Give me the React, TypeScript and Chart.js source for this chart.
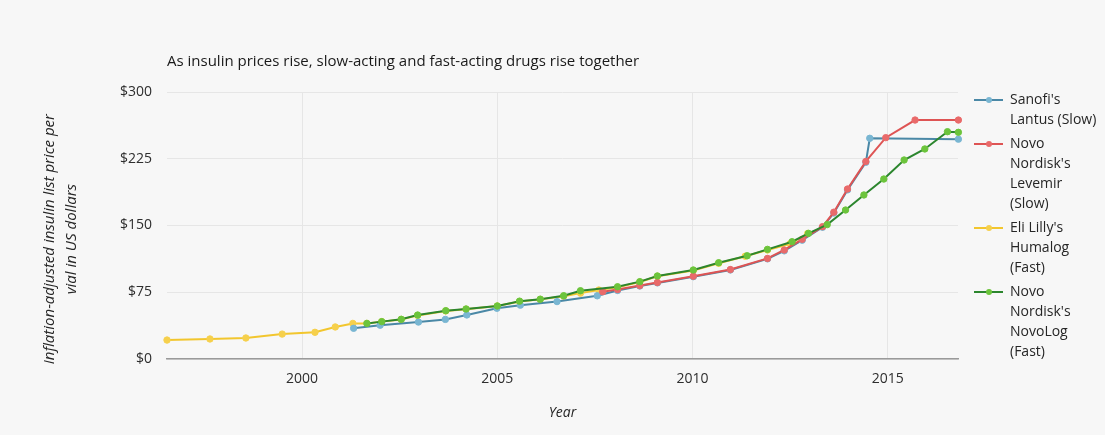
import React, { useEffect, useRef } from 'react';
import { Chart, registerables } from 'chart.js';

Chart.register(...registerables);

const TITLE = 'As insulin prices rise, slow-acting and fast-acting drugs rise together';
const X_TITLE = 'Year';
const Y_TITLE = ['Inflation-adjusted insulin list price per       ', 'vial in US dollars       '];
const X_MIN = 1996.54;
const X_MAX = 2016.8;
const X_TICKS = [2000, 2005, 2010, 2015];
const Y_TICKS = [0, 75, 150, 225, 300];

const SERIES_LABELS = [
  "Sanofi's Lantus (Slow)",
  "Novo Nordisk's Levemir (Slow)",
  "Eli Lilly's Humalog (Fast)",
  "Novo Nordisk's NovoLog (Fast)",
];
const LEGEND_LINES = [
  ["Sanofi's", 'Lantus (Slow)'],
  ['Novo', "Nordisk's", 'Levemir', '(Slow)'],
  ["Eli Lilly's", 'Humalog', '(Fast)'],
  ['Novo', "Nordisk's", 'NovoLog', '(Fast)'],
];

const LANTUS_YEARS = [2001.32, 2002.0, 2002.98, 2003.67, 2004.22, 2004.99, 2005.59, 2006.53, 2007.56, 2008.08, 2008.65, 2009.1, 2010.02, 2010.97, 2011.92, 2012.35, 2012.81, 2013.33, 2013.62, 2013.97, 2014.44, 2014.54, 2016.81];
const LANTUS_PRICES = [34.5, 38, 41.5, 44.5, 49.5, 57, 60.5, 64.5, 71, 77, 82, 85.5, 92.5, 100, 112.5, 121.5, 133.5, 148, 164, 190, 221, 248, 247];

const LEVEMIR_YEARS = [2007.7, 2008.08, 2008.65, 2009.1, 2010.02, 2010.97, 2011.92, 2012.35, 2012.81, 2013.33, 2013.62, 2013.97, 2014.44, 2014.95, 2015.7, 2016.81];
const LEVEMIR_PRICES = [75.6, 78, 82.5, 86, 93, 100.5, 113, 122.5, 134.5, 148.7, 165, 191, 222, 248.7, 268.5, 268.5];

const HUMALOG_YEARS = [1996.54, 1997.64, 1998.56, 1999.49, 2000.33, 2000.85, 2001.3, 2001.66, 2002.04, 2002.54, 2002.96, 2003.68, 2004.2, 2005.0, 2005.57, 2006.1, 2006.7, 2007.13, 2007.6, 2008.08, 2008.65, 2009.1, 2010.02, 2010.67, 2011.35, 2011.92, 2012.5, 2012.95];
const HUMALOG_PRICES = [21.3, 22.5, 23.6, 28, 30, 36, 40, 40, 42, 44.5, 49, 54, 56, 59.5, 64.5, 67, 70.5, 74, 77.5, 80.5, 86.5, 93, 99.5, 107.5, 115.5, 122.5, 129.5, 141];

const NOVOLOG_YEARS = [2001.66, 2002.04, 2002.54, 2002.96, 2003.68, 2004.2, 2005.0, 2005.57, 2006.1, 2006.7, 2007.13, 2008.08, 2008.65, 2009.1, 2010.02, 2010.67, 2011.4, 2011.92, 2012.55, 2012.97, 2013.45, 2013.92, 2014.39, 2014.9, 2015.42, 2015.95, 2016.53, 2016.81];
const NOVOLOG_PRICES = [40, 42, 44.6, 49.4, 54.3, 56.2, 59.6, 65, 67.2, 71.1, 76.7, 81.2, 86.9, 93.3, 100, 108.2, 116, 123.2, 131.8, 141.2, 151, 167.4, 184.3, 202.2, 223.6, 236, 255.4, 254.7];

const SERIES_YEARS = [LANTUS_YEARS, LEVEMIR_YEARS, HUMALOG_YEARS, NOVOLOG_YEARS];
const SERIES_PRICES = [LANTUS_PRICES, LEVEMIR_PRICES, HUMALOG_PRICES, NOVOLOG_PRICES];

const LINE_COLORS = ['#4a88a6', '#de5454', '#f2c62e', '#2c862e'];
const POINT_COLORS = ['#79b6d2', '#e96a6a', '#f6d04c', '#6cc43c'];
const DRAW_ORDER = [2, 1, 3, 0];

const FONT = '"Open Sans", Lato, sans-serif';
const TEXT = '#262626';

function makeMarker(line: string, dot: string): HTMLCanvasElement {
  const c = document.createElement('canvas');
  c.width = 41;
  c.height = 10;
  const g = c.getContext('2d')!;
  g.strokeStyle = line;
  g.lineWidth = 2;
  g.beginPath();
  g.moveTo(12, 5);
  g.lineTo(41, 5);
  g.stroke();
  g.fillStyle = dot;
  g.beginPath();
  g.arc(27, 5, 3, 0, Math.PI * 2);
  g.fill();
  return c;
}

export default function App() {
  const ref = useRef<HTMLCanvasElement>(null);

  useEffect(() => {
    if (!ref.current) return;
    const markers = LINE_COLORS.map((c, i) => makeMarker(c, POINT_COLORS[i]));

    const datasets = SERIES_LABELS.map((label, i) => ({
      label,
      data: SERIES_YEARS[i].map((x, j) => ({ x, y: SERIES_PRICES[i][j] })),
      borderColor: LINE_COLORS[i],
      backgroundColor: POINT_COLORS[i],
      pointBackgroundColor: POINT_COLORS[i],
      pointBorderColor: POINT_COLORS[i],
      pointRadius: 3.2,
      pointBorderWidth: 1,
      borderWidth: 2,
      tension: 0,
      order: DRAW_ORDER[i],
      clip: 8,
    }));

    const titlePlugin = {
      id: 'plotTitle',
      afterDraw(chart: any) {
        const ctx = chart.ctx;
        ctx.save();
        ctx.font = `15px ${FONT}`;
        ctx.fillStyle = '#1a1a1a';
        ctx.textBaseline = 'middle';
        ctx.textAlign = 'left';
        ctx.fillText(TITLE, chart.chartArea.left, 62);
        ctx.restore();
      },
    };

    const legendFitPlugin = {
      id: 'legendFit',
      beforeLayout(chart: any) {
        const lg = chart.legend;
        if (lg && !lg.__patched) {
          const orig = lg.fit.bind(lg);
          lg.fit = function () {
            orig();
            this.width = 147;
          };
          lg.__patched = true;
        }
      },
      afterLayout(chart: any) {
        const lg = chart.legend;
        if (lg) {
          lg.top -= 3;
          lg.bottom -= 3;
        }
      },
    };

    const chart = new Chart(ref.current, {
      type: 'line',
      data: { datasets },
      options: {
        responsive: false,
        animation: false,
        layout: { padding: { top: 92, left: 0, right: 0, bottom: 0 } },
        font: { family: FONT },
        scales: {
          x: {
            type: 'linear',
            min: X_MIN,
            max: X_MAX,
            afterBuildTicks: (s: any) => {
              s.ticks = X_TICKS.map((v) => ({ value: v }));
            },
            afterFit: (s: any) => {
              s.height = 76;
            },
            ticks: {
              callback: (v: any) => String(v),
              color: '#2e2e2e',
              font: { family: FONT, size: 14 },
              padding: 12,
              maxRotation: 0,
            },
            grid: { color: '#e6e6e6', drawTicks: false, lineWidth: 1 },
            border: { display: true, color: '#9a9a9a', width: 1.5 },
            title: {
              display: true,
              text: X_TITLE,
              color: TEXT,
              font: { family: FONT, size: 14, style: 'italic' },
              padding: { top: 0, bottom: 14 },
            },
          },
          y: {
            type: 'linear',
            min: 0,
            max: 300,
            afterBuildTicks: (s: any) => {
              s.ticks = Y_TICKS.map((v) => ({ value: v }));
            },
            afterFit: (s: any) => {
              s.width = 167;
            },
            ticks: {
              callback: (v: any) => '$' + v,
              color: '#2e2e2e',
              font: { family: FONT, size: 14 },
              padding: 15,
            },
            grid: { color: '#e6e6e6', drawTicks: false, lineWidth: 1 },
            border: { display: false },
            title: {
              display: true,
              text: Y_TITLE,
              color: TEXT,
              font: { family: FONT, size: 15, style: 'italic', lineHeight: 22 / 15 },
              padding: { top: 39, bottom: 0 },
            },
          },
        },
        plugins: {
          title: { display: false },
          tooltip: { enabled: false },
          legend: {
            display: true,
            position: 'right',
            align: 'start',
            maxWidth: 147,
            labels: {
              usePointStyle: true,
              pointStyleWidth: 41,
              boxHeight: 14,
              padding: 4,
              color: TEXT,
              font: { family: FONT, size: 14, lineHeight: 20 / 14 },
              sort: (a: any, b: any) => a.datasetIndex - b.datasetIndex,
              generateLabels: (ch: any) => {
                const base = (Chart as any).defaults.plugins.legend.labels.generateLabels(ch);
                return base.map((it: any) => ({
                  ...it,
                  text: LEGEND_LINES[it.datasetIndex],
                  pointStyle: markers[it.datasetIndex],
                  fontColor: TEXT,
                }));
              },
            },
          },
        },
      } as any,
      plugins: [titlePlugin, legendFitPlugin],
    });

    return () => chart.destroy();
  }, []);

  return (
    <div style={{ position: 'fixed', left: 0, top: 0, width: 1105, height: 435, background: '#f7f7f7' }}>
      <canvas ref={ref} width={1105} height={435} style={{ display: 'block', width: 1105, height: 435 }} />
    </div>
  );
}
